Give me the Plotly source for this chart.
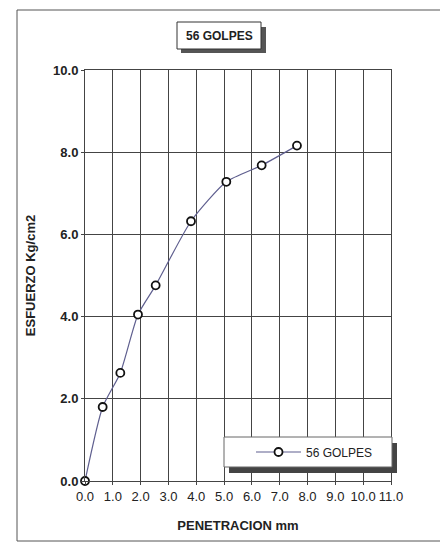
import plotly.graph_objects as go

# Data
penetracion_mm = [0.0, 0.635, 1.27, 1.905, 2.54, 3.81, 5.08, 6.35, 7.62]
esfuerzo_kgcm2 = [0.0, 1.80, 2.63, 4.05, 4.76, 6.32, 7.28, 7.68, 8.16]
x_ticks = [0, 1, 2, 3, 4, 5, 6, 7, 8, 9, 10, 11]
x_tick_labels = ["0.0", "1.0", "2.0", "3.0", "4.0", "5.0", "6.0", "7.0", "8.0", "9.0", "10.0", "11.0"]
y_ticks = [0, 2, 4, 6, 8, 10]
y_tick_labels = ["<b>0.0</b>", "<b>2.0</b>", "<b>4.0</b>", "<b>6.0</b>", "<b>8.0</b>", "<b>10.0</b>"]
series_name = "56 GOLPES"

OFF = 8  # page body margin
W, H = 448 - OFF, 545 - OFF
L, R, T, B = 85 - OFF, 391 - OFF, 70 - OFF, 481 - OFF  # plot area in figure pixels
PW, PH = R - L, B - T


def px(x):
    return (x - OFF - L) / PW


def py(y):
    return (B - (y - OFF)) / PH


FONT = "Arial, Liberation Sans, sans-serif"

fig = go.Figure()
fig.add_trace(go.Scatter(
    x=penetracion_mm, y=esfuerzo_kgcm2, mode="lines+markers", name=series_name,
    line=dict(color="#5f5f8f", width=1.2, shape="spline", smoothing=0.6),
    marker=dict(symbol="circle", size=8, color="white", line=dict(color="#111111", width=1.8)),
    cliponaxis=False,
))

shapes = []
# outer frame + shadow
shapes.append(dict(type="rect", xref="paper", yref="paper", x0=px(442), x1=px(446), y0=py(17), y1=py(545),
                   fillcolor="#444444", line=dict(width=0), layer="above"))
shapes.append(dict(type="rect", xref="paper", yref="paper", x0=px(17), x1=px(441), y0=py(10), y1=py(541),
                   fillcolor="rgba(0,0,0,0)", line=dict(color="#555555", width=1), layer="above"))
# title box + shadow
shapes.append(dict(type="rect", xref="paper", yref="paper", x0=px(181), x1=px(266), y0=py(27), y1=py(53),
                   fillcolor="#555555", line=dict(width=0), layer="above"))
shapes.append(dict(type="rect", xref="paper", yref="paper", x0=px(177), x1=px(261), y0=py(22), y1=py(49),
                   fillcolor="white", line=dict(color="#333333", width=1), layer="above"))
# legend box + shadow
shapes.append(dict(type="rect", xref="paper", yref="paper", x0=px(229), x1=px(397), y0=py(443), y1=py(473),
                   fillcolor="#444444", line=dict(width=0), layer="above"))
shapes.append(dict(type="rect", xref="paper", yref="paper", x0=px(224), x1=px(392), y0=py(437), y1=py(467),
                   fillcolor="white", line=dict(color="#666666", width=1), layer="above"))

annotations = [dict(text="<b>" + series_name + "</b>", xref="paper", yref="paper", x=px(219), y=py(36),
                    showarrow=False, font=dict(family=FONT, size=12, color="#222222"),
                    xanchor="center", yanchor="middle")]

fig.update_layout(
    width=W, height=H, autosize=False,
    margin=dict(l=L, r=W - R, t=T, b=H - B),
    paper_bgcolor="white", plot_bgcolor="white",
    font=dict(family=FONT, color="#222222"),
    shapes=shapes, annotations=annotations,
    showlegend=True,
    legend=dict(x=px(251), y=py(452), xanchor="left", yanchor="middle",
                bgcolor="rgba(0,0,0,0)", borderwidth=0,
                font=dict(family=FONT, size=12, color="#222222"), itemwidth=45),
    xaxis=dict(range=[0, 11], tickmode="array", tickvals=x_ticks, ticktext=x_tick_labels,
               showgrid=True, gridcolor="#444444", gridwidth=1, zeroline=False,
               showline=True, linecolor="#444444", linewidth=1, mirror=True,
               ticks="outside", ticklen=3, tickcolor="#444444",
               tickfont=dict(family=FONT, size=13, color="#222222"),
               title=dict(text="<b>PENETRACION mm</b>", font=dict(family=FONT, size=13, color="#222222"), standoff=18)),
    yaxis=dict(range=[0, 10], tickmode="array", tickvals=y_ticks, ticktext=y_tick_labels,
               showgrid=True, gridcolor="#444444", gridwidth=1, zeroline=False,
               showline=True, linecolor="#444444", linewidth=1, mirror=True,
               ticks="outside", ticklen=3, tickcolor="#444444",
               tickfont=dict(family=FONT, size=13, color="#222222"),
               title=dict(text="<b>ESFUERZO Kg/cm2</b>", font=dict(family=FONT, size=13, color="#222222"), standoff=14)),
)

fig.write_html("out.html")
